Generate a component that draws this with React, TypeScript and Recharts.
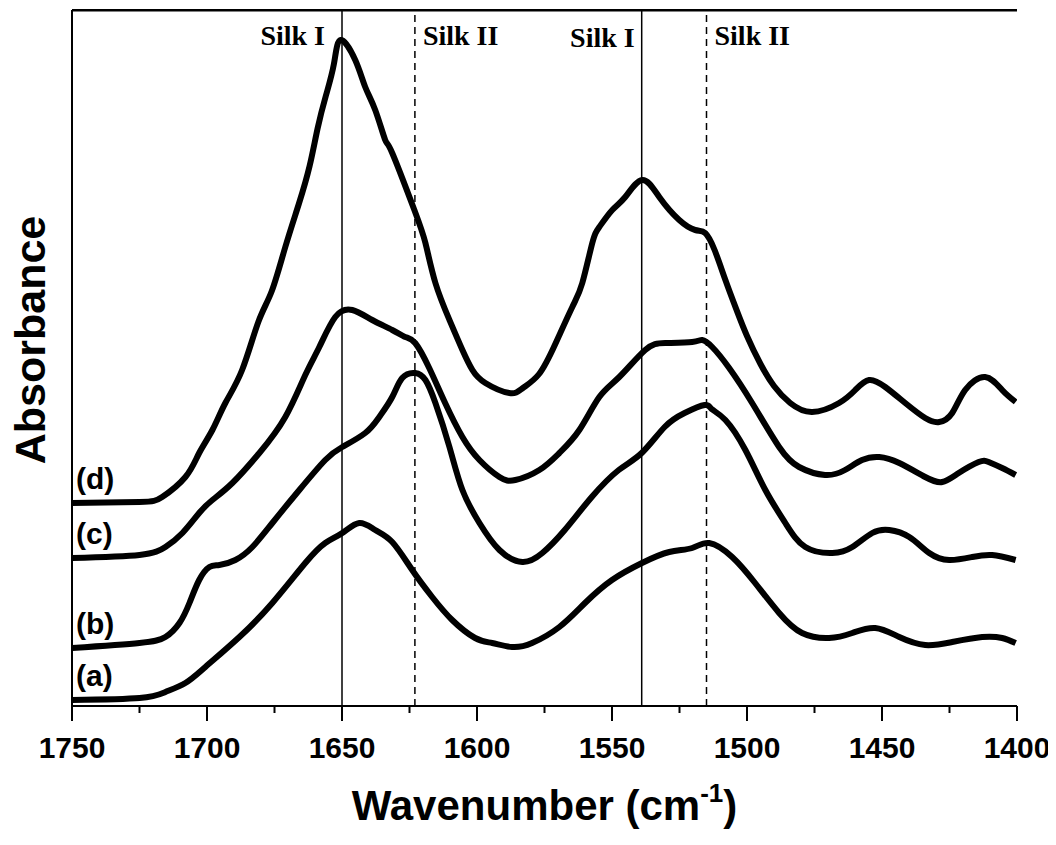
import React from 'react';
import { LineChart, Line, XAxis, YAxis, ReferenceLine } from 'recharts';

// wavenumbers (cm-1) and absorbance (arb. units, stacked)
const aWn = [1750, 1725, 1715.4, 1708, 1700.6, 1688, 1675.8, 1663.6, 1656.2, 1649.9, 1643.6, 1637.7, 1631.4, 1624, 1616.6, 1609.2, 1600.7, 1594.4, 1587, 1579.6, 1569.5, 1560, 1550, 1538.9, 1528.8, 1520.3, 1514, 1505.5, 1497, 1488.1, 1479.6, 1469.6, 1461, 1452.5, 1443.6, 1434, 1424, 1412.9, 1405.5, 1400.5];
const aAbs = [0.06, 0.08, 0.14, 0.23, 0.39, 0.69, 1.03, 1.43, 1.63, 1.73, 1.83, 1.76, 1.64, 1.36, 1.09, 0.86, 0.68, 0.63, 0.59, 0.63, 0.79, 1.03, 1.26, 1.43, 1.54, 1.58, 1.63, 1.49, 1.23, 0.93, 0.73, 0.68, 0.73, 0.78, 0.69, 0.61, 0.64, 0.69, 0.68, 0.63];

const bWn = [1750, 1725, 1715.4, 1710.2, 1706.5, 1702.9, 1699.1, 1695.4, 1689.5, 1683.2, 1675.8, 1665.8, 1656.2, 1649.9, 1641.4, 1636.2, 1631.4, 1627.7, 1622.9, 1619.1, 1615.4, 1610.2, 1605.4, 1599.1, 1591.7, 1583.2, 1575.8, 1567.5, 1557.5, 1547.5, 1539, 1530.5, 1523.1, 1515.7, 1513.1, 1508, 1500.6, 1493.2, 1485.8, 1478.4, 1468.4, 1461, 1453.6, 1447.3, 1439.9, 1432.5, 1425.1, 1416.6, 1409.2, 1400.5];
const bAbs = [0.58, 0.63, 0.69, 0.83, 1.03, 1.26, 1.39, 1.41, 1.46, 1.59, 1.83, 2.16, 2.46, 2.59, 2.73, 2.89, 3.09, 3.28, 3.33, 3.26, 3.03, 2.59, 2.16, 1.83, 1.56, 1.44, 1.53, 1.76, 2.09, 2.36, 2.53, 2.79, 2.93, 3.01, 2.97, 2.86, 2.56, 2.16, 1.83, 1.59, 1.53, 1.59, 1.73, 1.76, 1.69, 1.53, 1.46, 1.49, 1.51, 1.46];

const cWn = [1750, 1725, 1715.4, 1709.1, 1702.9, 1698, 1690.6, 1680.6, 1671, 1663.6, 1658.4, 1652.5, 1646.2, 1638.8, 1631.4, 1626.6, 1622.9, 1617.7, 1611.8, 1605.4, 1599.1, 1591.7, 1585.8, 1576.9, 1569.5, 1562.1, 1554.7, 1547.3, 1537.7, 1530.3, 1520.3, 1516.6, 1512.9, 1506.6, 1498.1, 1488.1, 1480.7, 1471.1, 1463.7, 1457.4, 1451, 1443.6, 1434, 1427.7, 1421.6, 1414.2, 1410.5, 1405.5, 1400.5];
const cAbs = [1.48, 1.51, 1.59, 1.73, 1.93, 2.06, 2.23, 2.53, 2.89, 3.31, 3.59, 3.89, 3.96, 3.86, 3.76, 3.69, 3.63, 3.38, 3.03, 2.69, 2.46, 2.29, 2.26, 2.36, 2.53, 2.76, 3.09, 3.29, 3.56, 3.63, 3.64, 3.66, 3.59, 3.38, 3.03, 2.59, 2.39, 2.31, 2.36, 2.46, 2.49, 2.43, 2.29, 2.24, 2.33, 2.44, 2.44, 2.38, 2.31];

const dWn = [1750, 1725, 1716.6, 1708, 1702.9, 1698, 1693.2, 1687, 1681, 1676, 1671, 1666, 1662, 1659, 1656, 1653, 1650.5, 1645.1, 1641.4, 1637.7, 1634, 1631.4, 1623.2, 1619.1, 1615.4, 1610.2, 1605.4, 1601.7, 1596.9, 1588, 1583, 1577, 1571, 1564.7, 1561, 1557.3, 1554.7, 1549.9, 1545.1, 1538.8, 1532.5, 1525.1, 1519.2, 1515.5, 1512, 1508, 1504, 1500, 1495, 1490, 1484, 1475.9, 1465.9, 1459.9, 1454.8, 1448.8, 1441.4, 1434, 1428.8, 1424, 1419.2, 1411.8, 1405.5, 1400.5];
const dAbs = [2.03, 2.04, 2.09, 2.29, 2.53, 2.76, 3.03, 3.36, 3.84, 4.15, 4.59, 5.02, 5.4, 5.78, 6.1, 6.42, 6.66, 6.46, 6.19, 5.96, 5.66, 5.53, 4.96, 4.63, 4.23, 3.86, 3.56, 3.36, 3.23, 3.13, 3.18, 3.32, 3.62, 3.99, 4.23, 4.63, 4.79, 4.96, 5.09, 5.26, 5.09, 4.86, 4.76, 4.73, 4.56, 4.26, 3.97, 3.7, 3.42, 3.2, 3.03, 2.94, 3.03, 3.16, 3.26, 3.19, 3.03, 2.88, 2.84, 2.93, 3.16, 3.29, 3.16, 3.04];

const seriesNames = ['(a)', '(b)', '(c)', '(d)'];

const silkWn = [1650, 1623, 1539, 1515];
const silkNames = ['Silk I', 'Silk II', 'Silk I', 'Silk II'];

const xTicks = [1750, 1725, 1700, 1675, 1650, 1625, 1600, 1575, 1550, 1525, 1500, 1475, 1450, 1425, 1400];

const Y_MAX = 6.96;

const toPoints = (wn: number[], abs: number[]) => wn.map((w, i) => ({ wn: w, abs: abs[i] }));

const series = [
  { name: seriesNames[0], points: toPoints(aWn, aAbs) },
  { name: seriesNames[1], points: toPoints(bWn, bAbs) },
  { name: seriesNames[2], points: toPoints(cWn, cAbs) },
  { name: seriesNames[3], points: toPoints(dWn, dAbs) },
];

const SANS = '"Liberation Sans", Arial, sans-serif';
const SERIF = '"Liberation Serif", "Times New Roman", serif';

function XTick(props: any) {
  const { x, y, payload } = props;
  const major = payload.value % 50 === 0;
  return (
    <g>
      <line x1={x} x2={x} y1={y} y2={y + (major ? 15 : 7)} stroke="#000" strokeWidth={2} />
      {major && (
        <text x={x} y={y + 52} textAnchor="middle" fontSize={30} fontWeight="bold" fontFamily={SANS} fill="#000">
          {payload.value}
        </text>
      )}
    </g>
  );
}

function xTitle(p: any) {
  const vb = p.viewBox;
  return (
    <text x={vb.x + vb.width / 2} y={vb.y + 114} textAnchor="middle" fontSize={42} fontWeight="bold" fontFamily={SANS} fill="#000">
      Wavenumber (cm<tspan dy={-18} fontSize={26}>-1</tspan><tspan dy={18}>)</tspan>
    </text>
  );
}

function yTitle(p: any) {
  const vb = p.viewBox;
  const cx = 37;
  const cy = vb.y + vb.height / 2 - 18;
  return (
    <text x={0} y={0} transform={`translate(${cx}, ${cy}) rotate(-90)`} textAnchor="middle" fontSize={43} fontWeight="bold" fontFamily={SANS} fill="#000">
      Absorbance
    </text>
  );
}

function silkLabel(name: string, i: number) {
  return (p: any) => {
    const vb = p.viewBox;
    const left = i % 2 === 0;
    const gap = i === 0 ? 17 : i === 2 ? 7 : 8;
    return (
      <text
        x={left ? vb.x - gap : vb.x + gap}
        y={37 + (i === 2 ? 2 : 0)}
        textAnchor={left ? 'end' : 'start'}
        fontSize={28}
        fontWeight="bold"
        fontFamily={SERIF}
        fill="#000"
      >
        {name}
      </text>
    );
  };
}

function curveLabel(name: string) {
  return (p: any) =>
    p.index === 0 ? (
      <text x={p.x + 4} y={p.y - 14} fontSize={30} fontWeight="bold" fontFamily={SANS} fill="#000">
        {name}
      </text>
    ) : null;
}

export default function App() {
  return (
    <LineChart width={1046} height={825} margin={{ top: 1, right: 37, left: 0, bottom: 0 }}>
      <XAxis
        dataKey="wn"
        type="number"
        domain={[1400, 1750]}
        reversed
        allowDataOverflow
        ticks={xTicks}
        interval={0}
        tickSize={0}
        tickMargin={0}
        tickLine={false}
        tick={<XTick />}
        height={127}
        axisLine={{ stroke: '#000', strokeWidth: 2 }}
        label={xTitle}
      />
      {/* top frame */}
      <XAxis
        xAxisId="top"
        dataKey="wn"
        orientation="top"
        type="number"
        domain={[1400, 1750]}
        reversed
        allowDataOverflow
        height={1}
        tick={false}
        tickLine={false}
        axisLine={{ stroke: '#000', strokeWidth: 2 }}
      />
      <YAxis
        type="number"
        domain={[0, Y_MAX]}
        allowDataOverflow
        width={64}
        tick={false}
        tickLine={false}
        axisLine={{ stroke: '#000', strokeWidth: 2 }}
        label={yTitle}
      />
      <YAxis
        yAxisId="right"
        orientation="right"
        type="number"
        domain={[0, Y_MAX]}
        allowDataOverflow
        width={0}
        tick={false}
        tickLine={false}
        axisLine={{ stroke: '#000', strokeWidth: 2 }}
      />
      <ReferenceLine yAxisId="right" y={Y_MAX - 0.005} stroke="#000" strokeWidth={2} ifOverflow="visible" />
      {silkWn.map((w, i) => (
        <ReferenceLine
          key={'silk' + i}
          x={w}
          stroke="#000"
          strokeWidth={1.5}
          strokeDasharray={i % 2 === 1 ? '7 5' : undefined}
          label={silkLabel(silkNames[i], i)}
        />
      ))}
      {series.map((s) => (
        <Line
          key={s.name}
          data={s.points}
          dataKey="abs"
          type="natural"
          stroke="#000"
          strokeWidth={6}
          dot={false}
          activeDot={false}
          isAnimationActive={false}
          label={curveLabel(s.name)}
        />
      ))}
    </LineChart>
  );
}
